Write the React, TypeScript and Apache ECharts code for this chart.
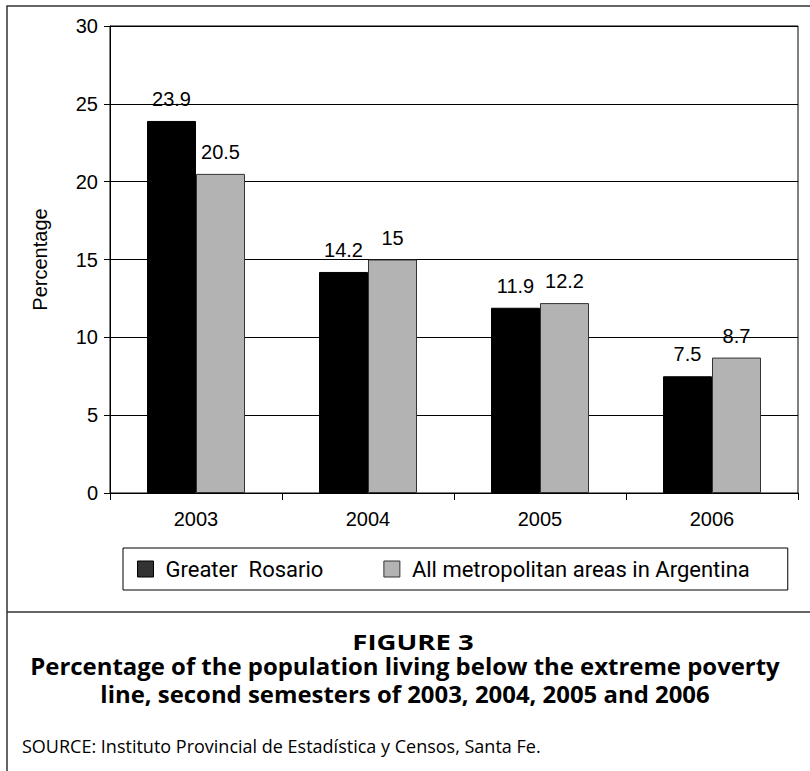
import React, { useEffect, useRef } from "react";
import * as echarts from "echarts";

const categories = ["2003", "2004", "2005", "2006"];
const greaterRosario = [23.9, 14.2, 11.9, 7.5];
const allMetro = [20.5, 15, 12.2, 8.7];
const seriesNames = ["Greater  Rosario", "All metropolitan areas in Argentina"];
const yMin = 0;
const yMax = 30;
const yStep = 5;
const yAxisTitle = "Percentage";
const figureLabel = "FIGURE 3";
const captionLines = [
  "Percentage of the population living below the extreme poverty",
  "line, second semesters of 2003, 2004, 2005 and 2006",
];
const sourceText = "SOURCE: Instituto Provincial de Estadística y Censos, Santa Fe.";

const AX_FONT = "'Liberation Sans', Arial, sans-serif";
const LEG_FONT = "Roboto, sans-serif";
const CAP_FONT = "'Open Sans', sans-serif";

export default function App() {
  const ref = useRef<HTMLDivElement>(null);
  useEffect(() => {
    if (!ref.current) return;
    const chart = echarts.init(ref.current, undefined, { renderer: "svg" });
    const labelStyle = {
      show: true,
      position: "top" as const,
      distance: 12,
      color: "#000",
      fontSize: 20,
      fontFamily: AX_FONT,
    };
    chart.setOption({
      animation: false,
      backgroundColor: "#fff",
      grid: {
        left: 110,
        right: 12,
        top: 26,
        bottom: 278,
        show: true,
        borderColor: "#000",
        borderWidth: 1,
        backgroundColor: "transparent",
      },
      legend: {
        left: 123,
        top: 548,
        orient: "horizontal",
        borderColor: "#000",
        borderWidth: 1,
        padding: [10, 38, 10, 14],
        itemGap: 60,
        itemWidth: 16,
        itemHeight: 16,
        icon: "rect",
        textStyle: {
          fontSize: 22,
          fontFamily: LEG_FONT,
          color: "#000",
          padding: [0, 0, 0, 7],
        },
        data: [
          {
            name: seriesNames[0],
            itemStyle: { color: "#333", borderColor: "#000", borderWidth: 1 },
          },
          {
            name: seriesNames[1],
            itemStyle: { color: "#b3b3b3", borderColor: "#333", borderWidth: 1 },
          },
        ],
      },
      xAxis: {
        type: "category",
        data: categories,
        axisLine: { lineStyle: { color: "#000", width: 1 } },
        axisTick: { show: true, length: 7, lineStyle: { color: "#000" } },
        axisLabel: {
          color: "#000",
          fontSize: 20,
          fontFamily: AX_FONT,
          margin: 16,
        },
        splitLine: { show: false },
      },
      yAxis: {
        type: "value",
        min: yMin,
        max: yMax,
        interval: yStep,
        name: yAxisTitle,
        nameLocation: "middle",
        nameGap: 60,
        nameRotate: 90,
        nameTextStyle: { color: "#000", fontSize: 20, fontFamily: AX_FONT },
        axisLine: { show: true, lineStyle: { color: "#000", width: 1 } },
        axisTick: { show: true, length: 6, lineStyle: { color: "#000" } },
        axisLabel: {
          color: "#000",
          fontSize: 20,
          fontFamily: AX_FONT,
          margin: 12,
        },
        splitLine: { show: true, lineStyle: { color: "#000", width: 1 } },
      },
      series: [
        {
          name: seriesNames[0],
          type: "bar",
          data: greaterRosario,
          barWidth: 49,
          barGap: "0%",
          itemStyle: { color: "#000", borderColor: "#000", borderWidth: 1 },
          label: labelStyle,
        },
        {
          name: seriesNames[1],
          type: "bar",
          data: allMetro,
          barWidth: 49,
          barGap: "0%",
          itemStyle: { color: "#b3b3b3", borderColor: "#333", borderWidth: 1 },
          label: labelStyle,
        },
      ],
      graphic: [
        {
          type: "rect",
          shape: { x: 7, y: 6, width: 900, height: 900 },
          style: { fill: "none", stroke: "#333", lineWidth: 1.5 },
          silent: true,
        },
        {
          type: "line",
          shape: { x1: 7, y1: 612, x2: 810, y2: 612 },
          style: { stroke: "#333", lineWidth: 1.5 },
          silent: true,
        },
        {
          type: "text",
          x: 413,
          y: 641,
          scaleX: 1.25,
          style: {
            text: figureLabel,
            fill: "#000",
            font: `bold 22px ${CAP_FONT}`,
            textAlign: "center",
            textVerticalAlign: "middle",
          },
        },
        {
          type: "text",
          x: 405,
          y: 666,
          scaleX: 1.04,
          style: {
            text: captionLines[0],
            fill: "#000",
            font: `bold 23px ${CAP_FONT}`,
            textAlign: "center",
            textVerticalAlign: "middle",
          },
        },
        {
          type: "text",
          x: 405,
          y: 694,
          scaleX: 1.04,
          style: {
            text: captionLines[1],
            fill: "#000",
            font: `bold 23px ${CAP_FONT}`,
            textAlign: "center",
            textVerticalAlign: "middle",
          },
        },
        {
          type: "text",
          x: 22,
          y: 746,
          style: {
            text: sourceText,
            fill: "#000",
            font: `18px ${CAP_FONT}`,
            textAlign: "left",
            textVerticalAlign: "middle",
          },
        },
      ],
    });
    return () => chart.dispose();
  }, []);
  return (
    <div
      ref={ref}
      style={{ position: "absolute", left: 0, top: 0, width: 810, height: 771 }}
    />
  );
}
